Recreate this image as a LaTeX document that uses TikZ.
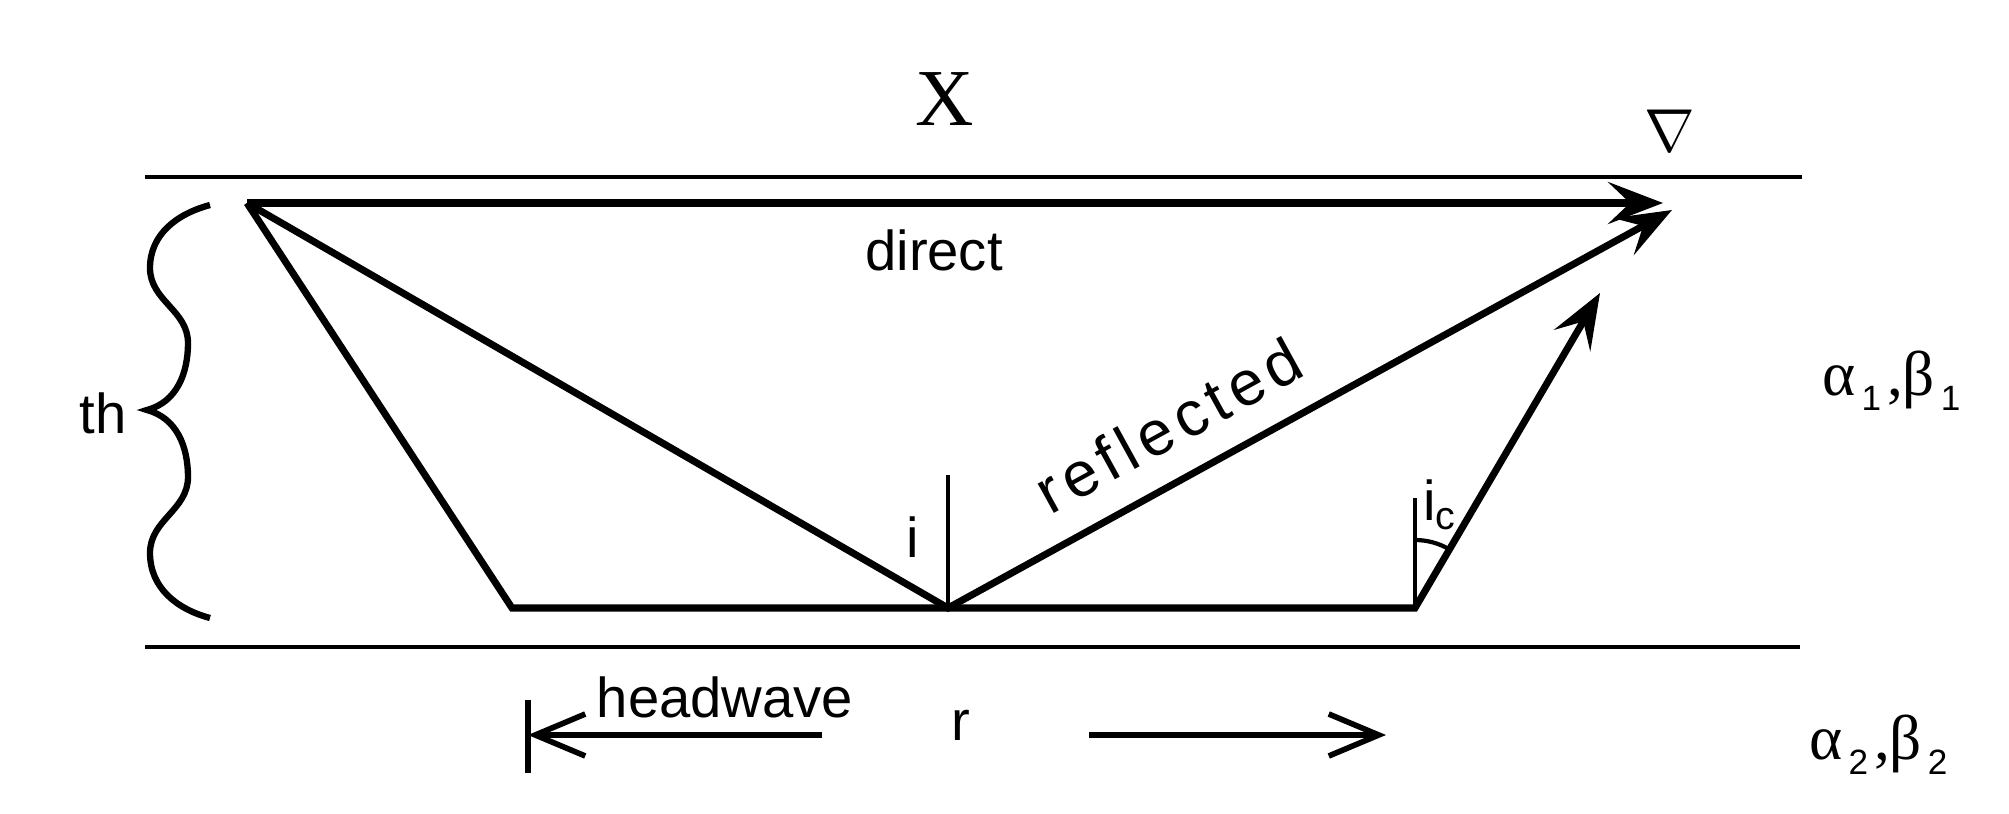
\documentclass[tikz,border=0pt]{standalone}
\usepackage{fontspec}
\setmainfont{Liberation Sans}
\newfontfamily\timesfont{Liberation Serif}
\usepackage{tikz}
\usetikzlibrary{arrows.meta,calc}
\newcommand{\lowsub}[1]{\raisebox{-0.55ex}{\normalfont\fontsize{10}{10}\selectfont\,#1\,}}

\begin{document}
\begin{tikzpicture}[
    ray/.style={line width=2pt},
    layer/.style={line width=1.4pt},
    normal/.style={line width=1.2pt},
    bottomarrow/.style={line width=1.6pt,-{Straight Barb[length=5mm,width=4.2mm]}},
    raytip/.style={-{Stealth[length=5.5mm,width=4.2mm,inset=2.2mm]}},
    lbl/.style={font=\fontsize{16}{19}\selectfont,inner sep=0pt},
    greek/.style={font=\timesfont\fontsize{18}{18}\selectfont,inner sep=0pt,anchor=base west}
  ]
  \useasboundingbox (0,0) rectangle (20.09,8.13);
  % layer boundaries
  \draw[layer] (1.45,6.36)--(18.02,6.36);
  \draw[layer] (1.45,1.66)--(18.00,1.66);

  \coordinate (src)    at (2.47,6.10);
  \coordinate (dirEnd) at (16.63,6.10);
  \coordinate (refl)   at (9.48,2.05);
  \coordinate (refEnd) at (16.72,6.03);
  \coordinate (hwA)    at (5.12,2.05);
  \coordinate (hwB)    at (14.15,2.05);
  \coordinate (hwEnd)  at (16.00,5.20);

  % rays
  \draw[ray,raytip] (src)--(dirEnd);
  \draw[ray,raytip] (src)--(refl)--(refEnd);
  \draw[ray,raytip] (src)--(hwA)--(hwB)--(hwEnd);

  % normals and angles
  \draw[normal] (refl)--++(0,1.33) coordinate (reflTop);
  \draw[normal] (hwB)--++(0,1.10) coordinate (hwTop);
  \draw[normal] ($(hwB)+(0,0.68)$) arc[start angle=90,end angle=59.6,radius=0.68];
  \node[lbl] (iTxt) at (9.13,2.76) {i};
  \node[lbl] (icTxt) at (14.40,3.08) {i\textsubscript{c}};

  % thickness brace
  \draw[line width=1.8pt] (2.10,6.08) to[out=195,in=90] (1.50,5.45)
    to[out=-90,in=90] (1.88,4.70) to[out=-90,in=15] (1.47,4.03)
    to[out=-15,in=90] (1.88,3.36) to[out=-90,in=90] (1.50,2.60)
    to[out=-90,in=165] (2.10,1.95);
  \node[lbl] (thTxt) at (1.03,4.00) {th};

  % labels
  \node[font=\timesfont\fontsize{23}{23}\selectfont,inner sep=0pt] (xTxt) at (9.45,7.14) {X};
  \node[inner sep=0pt] (rcv) at (16.70,6.82) {\fontsize{17}{17}\selectfont$\nabla$};
  \node[lbl,anchor=base] (dirTxt) at (9.34,5.43) {direct};
  \path (refl)--(refEnd) node[sloped,pos=0.34,above=0.3cm,inner sep=0pt,
    font=\fontsize{18}{20}\selectfont] (refTxt)
    {\addfontfeatures{LetterSpace=10}reflected};
  \node[greek] (lay1) at (18.22,4.18) {α\lowsub{1},β\lowsub{1}};
  \node[greek] (lay2) at (18.09,0.54) {α\lowsub{2},β\lowsub{2}};

  % offset arrows
  \coordinate (barPt) at (5.28,0.78);
  \coordinate (leftStart) at (8.22,0.78);
  \coordinate (rightStart) at (10.89,0.78);
  \coordinate (rightEnd) at (13.86,0.78);
  \draw[bottomarrow] (leftStart)--(barPt);
  \draw[line width=1.6pt] ($(barPt)+(0,-0.38)$)--($(barPt)+(0,0.35)$);
  \draw[bottomarrow] (rightStart)--(rightEnd);
  \node[lbl,anchor=base] (hwTxt) at (7.25,0.96) {headwave};
  \node[lbl,anchor=base] (rTxt) at (9.61,0.73) {r};
\end{tikzpicture}
\end{document}
